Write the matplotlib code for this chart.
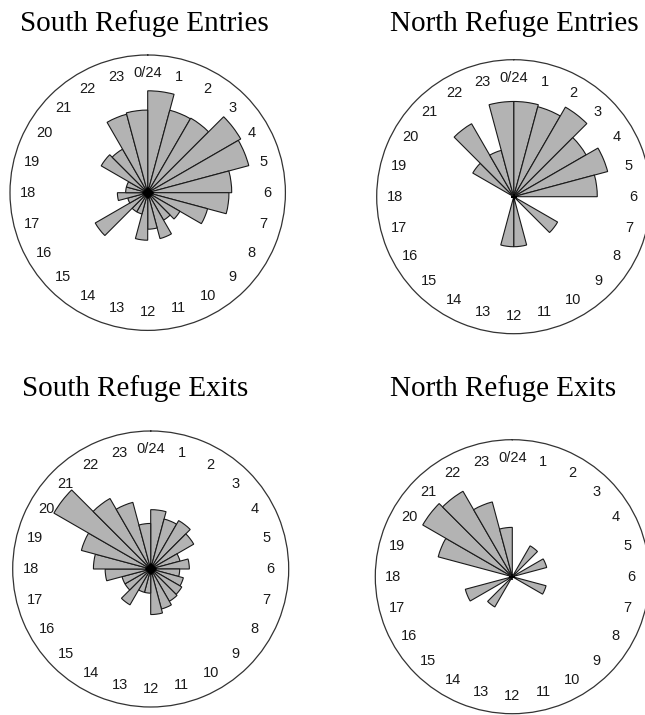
#!/usr/bin/env python3

import numpy as np
from matplotlib import pyplot as plt

# hourly activity, one value per hour 0..23 (circle radius = 100)
hours = list(range(24))
hour_labels = ['0/24'] + [str(h) for h in range(1, 24)]

south_entries = [74, 62, 62.5, 78, 76, 61, 59, 45, 27, 23, 34.5, 26.5,
                 34.5, 16, 16, 44, 15, 22, 16, 16, 39, 36.5, 59, 60]
north_entries = [69.5, 68, 75.5, 61, 71, 61, 0, 0, 37, 0, 0, 36.5,
                 36.5, 0, 0, 0, 0, 0, 0, 0, 34.5, 61.5, 35, 69.5]
south_exits = [43, 37.5, 40.5, 36, 22, 28, 21, 24.5, 26, 27, 30, 33,
               17.5, 17.5, 30, 21.5, 21.5, 33, 41.5, 52, 81, 59, 50, 33]
north_exits = [0, 0, 26, 0, 26, 0, 0, 25.5, 0, 0, 0, 0,
               0, 0, 25.5, 0, 35.5, 0, 0, 56, 75.5, 72, 56.5, 36]

titles = ['South Refuge Entries', 'North Refuge Entries',
          'South Refuge Exits', 'North Refuge Exits']
panels = [south_entries, north_entries, south_exits, north_exits]

W, H = 645, 715
# circle centre (x, y from top) and radius in pixels
centres = [(147.7, 192.7, 137.7), (513.7, 196.7, 137.0),
           (150.7, 569.0, 138.0), (512.3, 576.7, 137.0)]
title_pos = [(20, 24), (390, 24), (22, 389), (390, 389)]
markers = ['D', '+', 'D', '+']

fig = plt.figure(figsize=(W / 100, H / 100), dpi=100)

for vals, title, (cx, cy, R), (tx, ty), mk in zip(panels, titles, centres,
                                                 title_pos, markers):
    ax = fig.add_axes([(cx - R) / W, (H - cy - R) / H, 2 * R / W, 2 * R / H],
                      projection='polar')
    ax.set_theta_zero_location('N')
    ax.set_theta_direction(-1)
    ax.set_ylim(0, 100)

    theta = np.deg2rad(np.array(hours) * 15.0)
    ax.bar(theta, vals, width=np.deg2rad(15), align='edge',
           color='#b3b3b3', edgecolor='#1a1a1a', linewidth=0.8, zorder=2)

    ax.plot([0], [0], marker=mk, color='black',
            markersize=5, markeredgewidth=1.2, zorder=3)

    for h, lab in zip(hours, hour_labels):
        ax.text(np.deg2rad(h * 15), 87, lab, ha='center', va='center',
                fontsize=10.5, family='Liberation Sans', color='#1a1a1a')

    ax.set_xticks(np.deg2rad(np.arange(0, 360, 15)))
    ax.set_xticklabels([])
    ax.set_yticks([])
    ax.grid(False)
    ax.tick_params(axis='x', direction='inout', length=4, width=0.8,
                   color='#333333')
    ax.spines['polar'].set_color('#333333')
    ax.spines['polar'].set_linewidth(0.9)

    fig.text(tx / W, 1 - ty / H, title, ha='left', va='center',
             fontsize=21, family='Liberation Serif')

fig.savefig('out.png', dpi=100)
